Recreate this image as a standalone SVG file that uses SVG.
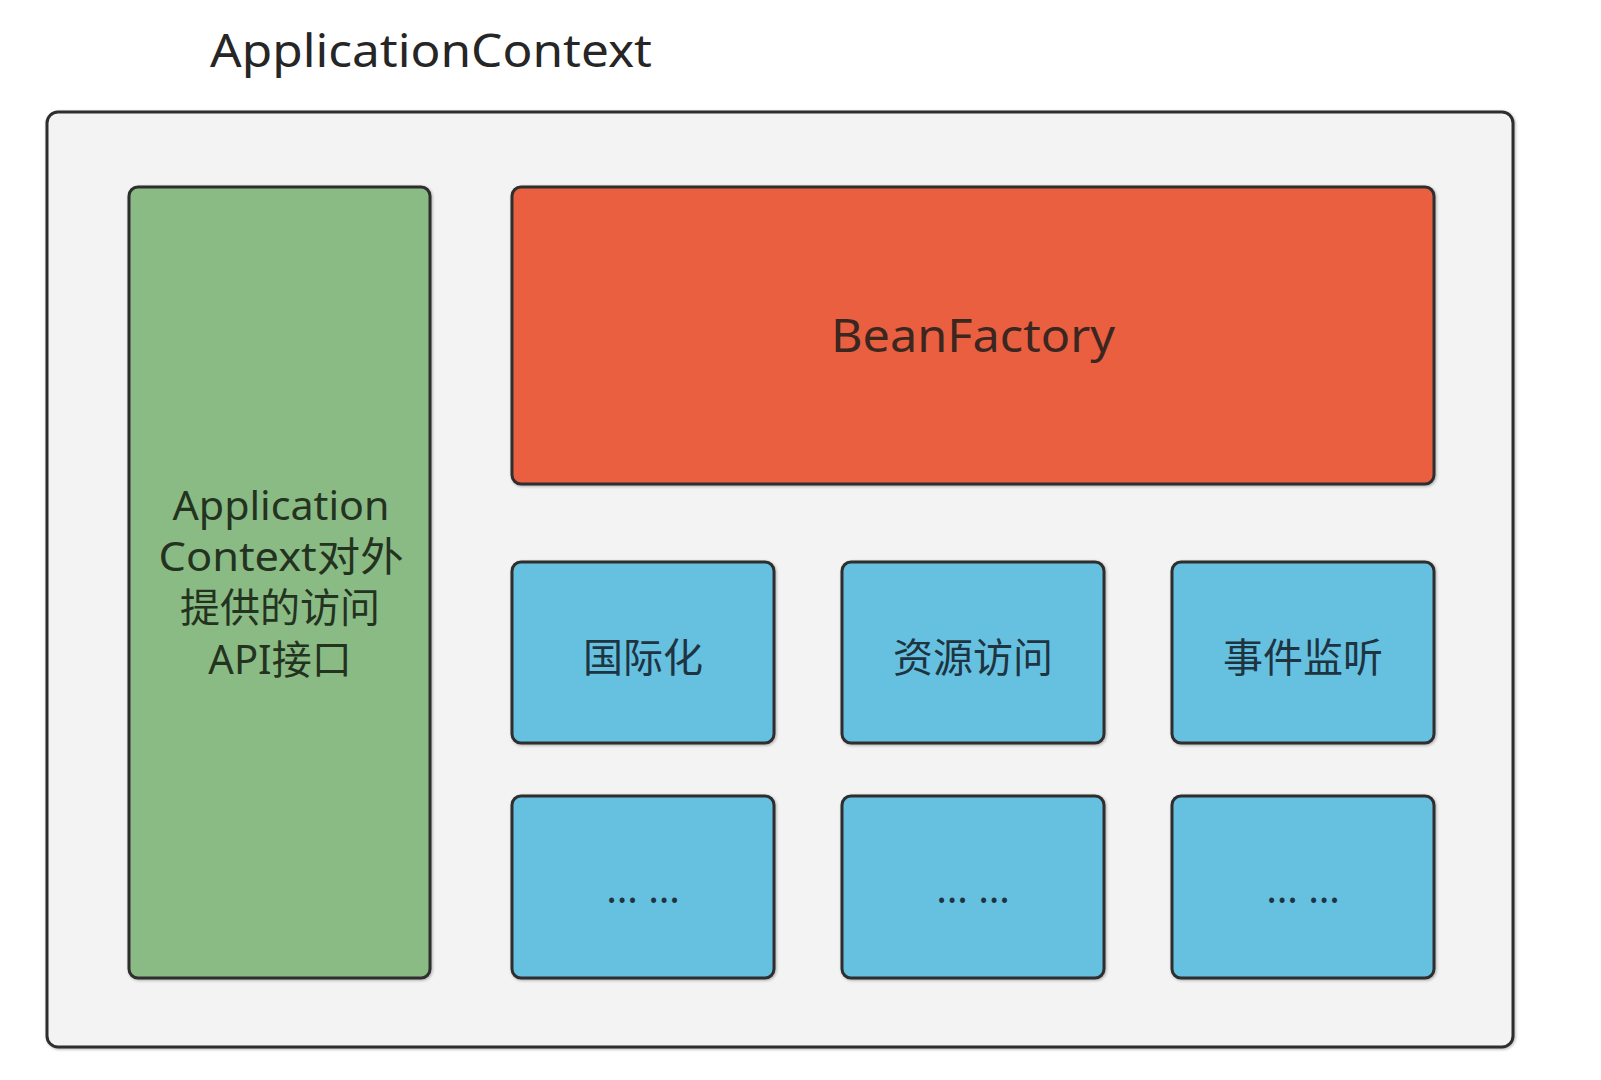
<svg xmlns="http://www.w3.org/2000/svg" width="1601" height="1080" viewBox="0 0 1601 1080">
  <defs>
    <style>
      .box { stroke: #2e2e2e; stroke-width: 3; }
      .outer { fill: #f3f3f3; }
      .green { fill: #8bbb85; }
      .red { fill: #e95f41; }
      .blue { fill: #66c0e0; }
      .t { font-family: "Noto Sans", "Noto Sans CJK SC", sans-serif; text-anchor: middle; }
      .title { font-family: "Noto Sans", "Noto Sans CJK SC", sans-serif; font-size: 46px; fill: #262626; }
      .gt { font-size: 40px; fill: #24331f; }
      .rt { font-size: 46px; fill: #3b2720; }
      .bt { font-size: 40px; fill: #1e3440; }
    </style>
    <filter id="sh" x="-5%" y="-5%" width="110%" height="110%">
      <feGaussianBlur in="SourceAlpha" stdDeviation="1.5"/>
      <feOffset dx="1" dy="1" result="b"/>
      <feComponentTransfer><feFuncA type="linear" slope="0.3"/></feComponentTransfer>
      <feMerge><feMergeNode/><feMergeNode in="SourceGraphic"/></feMerge>
    </filter>
  </defs>
  <rect width="1601" height="1080" fill="#ffffff"/>

  <g id="title">
    <text class="title" x="210" y="67" textLength="442" lengthAdjust="spacingAndGlyphs">ApplicationContext</text>
  </g>

  <g id="applicationContext">
    <rect class="box outer" x="47" y="112" width="1466" height="935" rx="11" filter="url(#sh)"/>
  </g>

  <g id="apiInterface">
    <rect class="box green" x="129" y="187" width="301" height="791" rx="9" filter="url(#sh)"/>
    <text class="t gt" x="281" y="520" textLength="217" lengthAdjust="spacingAndGlyphs">Application</text>
    <text class="t gt" x="281" y="571" textLength="245" lengthAdjust="spacingAndGlyphs">Context对外</text>
    <text class="t gt" x="280" y="622">提供的访问</text>
    <text class="t gt" x="280" y="674">API接口</text>
  </g>

  <g id="beanFactory">
    <rect class="box red" x="512" y="187" width="922" height="297" rx="9" filter="url(#sh)"/>
    <text class="t rt" x="973" y="352" textLength="284" lengthAdjust="spacingAndGlyphs">BeanFactory</text>
  </g>

  <g id="i18n">
    <rect class="box blue" x="512" y="562" width="262" height="181" rx="9" filter="url(#sh)"/>
    <text class="t bt" x="643" y="672">国际化</text>
  </g>
  <g id="resourceAccess">
    <rect class="box blue" x="842" y="562" width="262" height="181" rx="9" filter="url(#sh)"/>
    <text class="t bt" x="973" y="672">资源访问</text>
  </g>
  <g id="eventListener">
    <rect class="box blue" x="1172" y="562" width="262" height="181" rx="9" filter="url(#sh)"/>
    <text class="t bt" x="1303" y="672">事件监听</text>
  </g>

  <g id="more1">
    <rect class="box blue" x="512" y="796" width="262" height="182" rx="9" filter="url(#sh)"/>
    <text class="t bt" x="643" y="903">… …</text>
  </g>
  <g id="more2">
    <rect class="box blue" x="842" y="796" width="262" height="182" rx="9" filter="url(#sh)"/>
    <text class="t bt" x="973" y="903">… …</text>
  </g>
  <g id="more3">
    <rect class="box blue" x="1172" y="796" width="262" height="182" rx="9" filter="url(#sh)"/>
    <text class="t bt" x="1303" y="903">… …</text>
  </g>

  <g id="connectors"></g>
</svg>
